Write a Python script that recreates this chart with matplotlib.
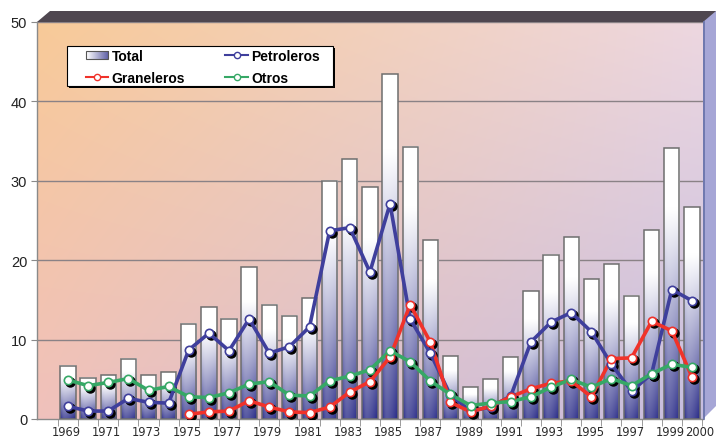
import numpy as np
import matplotlib
matplotlib.use("Agg")
import matplotlib.pyplot as plt
from matplotlib.patches import Polygon, Rectangle, Patch
from matplotlib.lines import Line2D
from matplotlib import transforms
from matplotlib.legend_handler import HandlerBase
from matplotlib.image import BboxImage
from matplotlib.transforms import Bbox, TransformedBbox

plt.rcParams['font.family'] = ['Liberation Sans', 'DejaVu Sans']

# ---- data (millions) ----
years = list(range(1969, 2001))
total = [6.7, 5.2, 5.5, 7.6, 5.5, 5.9, 12.0, 14.1, 12.6, 19.1, 14.4, 13.0, 15.2,
         30.0, 32.7, 29.2, 43.4, 34.3, 22.5, 7.9, 4.0, 5.0, 7.8, 16.1, 20.7,
         22.9, 17.6, 19.5, 15.5, 23.8, 34.1, 26.7]
petroleros = [1.6, 1.0, 1.0, 2.6, 2.1, 2.0, 8.7, 10.8, 8.6, 12.6, 8.3, 9.1, 11.6,
              23.7, 24.1, 18.5, 27.1, 12.6, 8.3, 3.0, 1.0, 1.5, 2.9, 9.7, 12.2,
              13.4, 11.0, 6.9, 3.5, 5.7, 16.3, 14.9]
graneleros = [None, None, None, None, None, None, 0.6, 0.9, 1.0, 2.3, 1.5, 0.9, 0.8,
              1.5, 3.4, 4.7, 7.8, 14.4, 9.7, 2.1, 0.9, 1.6, 2.8, 3.8, 4.5,
              4.8, 2.8, 7.6, 7.7, 12.3, 11.1, 5.3]
otros = [4.9, 4.2, 4.6, 5.1, 3.6, 4.1, 2.8, 2.7, 3.3, 4.4, 4.7, 3.0, 2.9,
         4.8, 5.4, 6.2, 8.6, 7.2, 4.8, 3.1, 1.7, 2.0, 2.2, 2.8, 4.0,
         5.0, 4.0, 5.1, 4.2, 5.7, 6.9, 6.5]
label_years = list(range(1969, 2000, 2)) + [2000]
year_labels = [str(y) for y in label_years]

W, H = 716, 439
fig = plt.figure(figsize=(W / 100, H / 100), dpi=100)


def fx(px):
    return px / W


def fy(py):
    return 1 - py / H


ax_l, ax_r, ax_t, ax_b = 37, 703, 23, 420
ax = fig.add_axes([fx(ax_l), fy(ax_b), fx(ax_r - ax_l), (ax_b - ax_t) / H])

xmin, xmax = 1967.46, 2000.55
ymin, ymax = 0, 50

# back wall gradient
TL = np.array([248, 202, 152]) / 255
TR = np.array([237, 215, 224]) / 255
BL = np.array([240, 193, 188]) / 255
BR = np.array([198, 190, 224]) / 255
gy, gx = np.mgrid[0:1:100j, 0:1:200j]
bg = ((1 - gx)[..., None] * (1 - gy)[..., None] * TL + gx[..., None] * (1 - gy)[..., None] * TR
      + (1 - gx)[..., None] * gy[..., None] * BL + gx[..., None] * gy[..., None] * BR)
ax.imshow(bg, extent=(0, 1, 0, 1), transform=ax.transAxes, aspect='auto',
          origin='upper', zorder=0, interpolation='bilinear')

# gridlines
for v in range(10, 60, 10):
    ax.axhline(v, color='#8a8286', lw=1.0, zorder=1)

# bars with per-bar gradient fill
navy = np.array([40, 42, 135]) / 255
white = np.array([1.0, 1.0, 1.0])
nv, nh = 80, 24
tv = np.linspace(0, 1, nv)[:, None]
u = np.linspace(0, 1, nh)[None, :]
vert = np.clip((tv - 0.22) / 0.78, 0, 1) ** 1.05
horiz = np.where(u < 0.3, 0.78 + 0.22 * ((0.3 - u) / 0.3) ** 2,
                 0.78 + 0.22 * ((u - 0.3) / 0.7) ** 1.5)
amt = np.clip(vert * horiz, 0, 1)[..., None]
bar_img = white * (1 - amt) + navy * amt

bw = 0.76
for yr, v in zip(years, total):
    ax.imshow(bar_img, extent=(yr - bw / 2, yr + bw / 2, 0, v), aspect='auto',
              origin='upper', zorder=2, interpolation='bilinear')
    ax.add_patch(Rectangle((yr - bw / 2, 0), bw, v, fill=False,
                           edgecolor='#6e6e6e', lw=1.1, zorder=3))

# lines with white markers and dark drop shadow
shadow = transforms.offset_copy(ax.transData, fig=fig, x=2, y=-2, units='dots')
series = [
    (petroleros, '#3f3f9c'),
    (graneleros, '#f0322a'),
    (otros, '#36a866'),
]
for vals, col in series:
    arr = np.array([np.nan if v is None else v for v in vals], dtype=float)
    ax.plot(years, arr, 'o', color='black', ms=6.5, transform=shadow, zorder=4,
            linestyle='none')
for vals, col in series:
    arr = np.array([np.nan if v is None else v for v in vals], dtype=float)
    ax.plot(years, arr, '-', color=col, lw=2.6, zorder=5, solid_joinstyle='round')
    ax.plot(years, arr, 'o', mfc='white', mec=col, mew=1.2, ms=6, zorder=6,
            linestyle='none')

ax.set_xlim(xmin, xmax)
ax.set_ylim(ymin, ymax)

# axes styling
for s in ['top', 'right']:
    ax.spines[s].set_visible(False)
for s in ['left', 'bottom']:
    ax.spines[s].set_color('#8a8a8a')
    ax.spines[s].set_linewidth(1.0)
ax.set_yticks(range(0, 60, 10))
ax.tick_params(axis='y', direction='out', length=4, color='#8a8a8a',
               labelsize=10.5, labelcolor='#222222', pad=3)
ax.set_xticks(label_years)
ax.set_xticklabels(year_labels, fontfamily='DejaVu Sans')
ax.set_xticks(np.arange(1968.5, 2001, 1), minor=True)
ax.tick_params(axis='x', which='major', length=0, labelsize=8.3,
               labelcolor='#2a2a2a', pad=4.5)
ax.tick_params(axis='x', which='minor', direction='out', length=5,
               color='#8a8a8a')

# year labels sit on the front edge of the floor, which is slightly wider
for yr, lab in zip(label_years, ax.get_xticklabels()):
    shift = -2 + (yr - 1969) * 0.03
    if yr == 2000:
        shift += 9
    lab.set_transform(lab.get_transform() +
                      transforms.ScaledTranslation(shift / 100, 0, fig.dpi_scale_trans))

# 3D top ledge and right side wall
fig.patches.append(Polygon([(fx(37), fy(23)), (fx(50), fy(12)), (fx(716), fy(12)),
                            (fx(716), fy(23)), (fx(703), fy(23))],
                           closed=True, transform=fig.transFigure,
                           facecolor='#4f4750', edgecolor='none', zorder=5))
fig.patches.append(Polygon([(fx(703), fy(23)), (fx(716), fy(12)), (fx(716), fy(407)),
                            (fx(703), fy(420))],
                           closed=True, transform=fig.transFigure,
                           facecolor='#a6a6d6', edgecolor='none', zorder=5))
fig.lines.append(Line2D([fx(703.5), fx(703.5)], [fy(23), fy(420)],
                        transform=fig.transFigure, color='#6670a8', lw=1.2,
                        zorder=6))

# legend box with a solid drop shadow
lx0, lx1, ly0, ly1 = 67, 333, 47, 87
fig.patches.append(Rectangle((fx(lx0 + 2), fy(ly1 + 2)), fx(lx1 - lx0), (ly1 - ly0) / H,
                             transform=fig.transFigure, facecolor='black',
                             edgecolor='none', zorder=8))
fig.patches.append(Rectangle((fx(lx0), fy(ly1)), fx(lx1 - lx0), (ly1 - ly0) / H,
                             transform=fig.transFigure, facecolor='white',
                             edgecolor='black', lw=0.8, zorder=9))


# legend swatch for the gradient bars
class GradientHandler(HandlerBase):
    def create_artists(self, legend, orig_handle, xdescent, ydescent, width,
                       height, fontsize, trans):
        n = 20
        t = np.linspace(0, 1, n)
        grad = np.array([white * (1 - a * 0.75) + navy * a * 0.75 for a in t])
        grad = np.repeat(grad[None, :, :], 4, axis=0)
        w = width
        x0 = -xdescent
        h = height * 0.8
        y0 = -ydescent + (height - h) / 2
        bb = TransformedBbox(Bbox.from_bounds(x0, y0, w, h), trans)
        im = BboxImage(bb, interpolation='bilinear')
        im.set_data(grad)
        rect = Rectangle((x0, y0), w, h, fill=False, edgecolor='#555555',
                         lw=0.8, transform=trans)
        return [im, rect]


h_total = Patch(facecolor='#8888c0', edgecolor='#555555', label='Total')
h_pet = Line2D([], [], color='#3f3f9c', lw=1.5, marker='o', mfc='white',
               mec='#3f3f9c', ms=4.5, label='Petroleros')
h_gra = Line2D([], [], color='#f0322a', lw=1.5, marker='o', mfc='white',
               mec='#f0322a', ms=4.5, label='Graneleros')
h_otr = Line2D([], [], color='#36a866', lw=1.5, marker='o', mfc='white',
               mec='#36a866', ms=4.5, label='Otros')

leg = fig.legend(handles=[h_total, h_gra, h_pet, h_otr], ncol=2,
                 loc='upper left', bbox_to_anchor=(fx(86), fy(50)),
                 borderaxespad=0, borderpad=0, frameon=False,
                 prop={'weight': 'bold', 'size': 10},
                 handlelength=1.6, handletextpad=0.25, columnspacing=2.9,
                 labelspacing=0.55,
                 handler_map={Patch: GradientHandler()})
leg.set_zorder(10)

fig.savefig('out.png', dpi=100)
